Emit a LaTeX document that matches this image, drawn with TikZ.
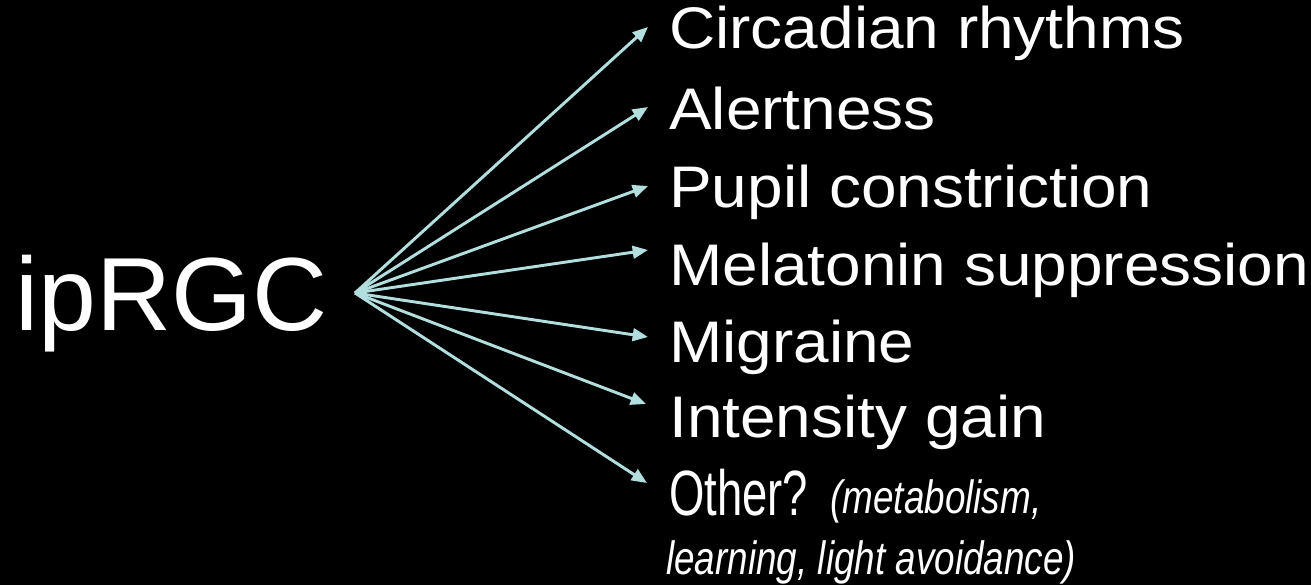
\documentclass[tikz,border=0pt]{standalone}
\usepackage{fontspec}
\setmainfont{Liberation Sans}
\newfontfamily\mainwide[FakeStretch=1.09]{Liberation Sans}
\newfontfamily\othernarrow[FakeStretch=0.71]{Liberation Sans}
\newfontfamily\itnarrow[FakeStretch=0.79]{Liberation Sans}
\usetikzlibrary{arrows.meta}
\definecolor{arrowc}{HTML}{B2DEDE}
\tikzset{
  lbl/.style={anchor=base west, inner sep=0pt, text=white, font=\mainwide\fontsize{44}{50}\selectfont},
  oth/.style={anchor=base west, inner sep=0pt, text=white, font=\othernarrow\fontsize{48}{54}\selectfont},
  sub/.style={anchor=base west, inner sep=0pt, text=white, font=\itnarrow\fontsize{35}{40}\selectfont\itshape},
  big/.style={anchor=base west, inner sep=0pt, text=white, font=\fontsize{78}{88}\selectfont},
  conn/.style={draw=arrowc, line width=2.2pt, -{Triangle[length=11.5pt,width=9.5pt]}}
}
\begin{document}
\begin{tikzpicture}[x=0.75pt,y=-0.75pt]
\fill[black] (0,0) rectangle (1311,585);
\useasboundingbox (0,0) rectangle (1311,585);
\node[big] (ip) at (15,330) {ipRGC};
\coordinate (o) at (355,293);
\node[lbl] (t1) at (669,49) {Circadian rhythms};
\node[lbl] (t2) at (669,129) {Alertness};
\node[lbl] (t3) at (669,207) {Pupil constriction};
\node[lbl] (t4) at (669,285) {Melatonin suppression};
\node[lbl] (t5) at (669,362) {Migraine};
\node[lbl] (t6) at (669,437) {Intensity gain};
\node[oth] (t7) at (669,515) {Other?};
\node[sub] (s1) at (830,513) {(metabolism,};
\node[sub] (s2) at (666,574) {learning, light avoidance)};
\coordinate (e1) at (648,27);
\coordinate (e2) at (648,107);
\coordinate (e3) at (648,186);
\coordinate (e4) at (648,250);
\coordinate (e5) at (648,337);
\coordinate (e6) at (646,404);
\coordinate (e7) at (647,483);
\foreach \i in {1,...,7} {\draw[conn] (o) -- (e\i);}
\end{tikzpicture}
\end{document}
